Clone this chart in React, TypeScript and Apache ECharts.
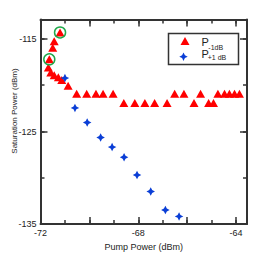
import React, { useEffect, useRef } from "react";
import * as echarts from "echarts";

const redX = [-71.2, -71.44, -71.5, -71.64, -71.68, -71.58, -71.44, -71.27, -71.13, -70.87, -70.52, -70.11, -69.73, -69.44, -69.03, -68.59, -68.14, -67.73, -67.33, -66.82, -66.51, -66.13, -65.72, -65.45, -65.12, -64.92, -64.74, -64.47, -64.27, -64.06, -63.86];
const redY = [-114.3, -115.26, -115.96, -117.2, -118.09, -118.62, -118.91, -119.15, -119.44, -120.05, -120.93, -120.93, -120.93, -120.93, -120.93, -121.92, -121.92, -121.92, -121.92, -121.92, -120.93, -120.93, -121.92, -120.93, -121.92, -121.92, -120.93, -120.93, -120.93, -120.93, -120.93];
const blueX = [-71.0, -70.59, -70.09, -69.54, -69.07, -68.58, -68.05, -67.49, -66.89, -66.33];
const blueY = [-119.23, -122.45, -124.02, -125.65, -126.68, -127.78, -129.7, -131.48, -133.47, -134.17];
const circledIdx = [0, 3];
const xLabels = [-72, -68, -64];
const yLabels = [-115, -125, -135];

const FONT = "Liberation Sans, Arial, sans-serif";
const AX = "#333";
const X_MIN = -72, X_MAX = -63.55, Y_MIN = -135, Y_MAX = -112.9;
const STAR = "path://M5,0 L6.7,3.3 L10,5 L6.7,6.7 L5,10 L3.3,6.7 L0,5 L3.3,3.3 Z";

function xAxisDef(position: string, interval: number, len: number, labels: boolean, line: boolean, name?: string) {
  return {
    type: "value", position, min: X_MIN, max: X_MAX, interval,
    name, nameLocation: "middle", nameGap: 16,
    nameTextStyle: { fontFamily: FONT, fontSize: 9, color: "#222" },
    splitLine: { show: false },
    axisLine: { show: line, onZero: false, lineStyle: { color: AX, width: 2 } },
    axisTick: { show: true, inside: true, length: len, lineStyle: { color: AX, width: 1.5 } },
    axisLabel: {
      show: labels, margin: 4, fontFamily: FONT, fontSize: 9, color: "#222",
      formatter: (v: number) => (xLabels.some((l) => Math.abs(l - v) < 1e-6) ? String(v) : ""),
    },
  };
}
function yAxisDef(position: string, interval: number, len: number, labels: boolean, line: boolean) {
  return {
    type: "value", position, min: Y_MIN, max: Y_MAX, interval,
    splitLine: { show: false },
    axisLine: { show: line, onZero: false, lineStyle: { color: AX, width: 2 } },
    axisTick: { show: true, inside: true, length: len, lineStyle: { color: AX, width: 1.5 } },
    axisLabel: {
      show: labels, margin: 4, fontFamily: FONT, fontSize: 9, color: "#222",
      formatter: (v: number) => (yLabels.some((l) => Math.abs(l - v) < 1e-6) ? String(v) : ""),
    },
  };
}

export default function App() {
  const ref = useRef<HTMLDivElement>(null);
  useEffect(() => {
    if (!ref.current) return;
    const chart = echarts.init(ref.current, undefined, { renderer: "svg" });
    const red = redX.map((x, i) => [x, redY[i]]);
    const blue = blueX.map((x, i) => [x, blueY[i]]);
    const circ = circledIdx.map((i) => [redX[i], redY[i]]);
    chart.setOption({
      animation: false,
      backgroundColor: "#fff",
      grid: { left: 40.5, right: 9, top: 19.5, bottom: 29 },
      xAxis: [
        xAxisDef("bottom", 2, 7, true, true, "Pump Power (dBm)"),
        xAxisDef("bottom", 1, 4, false, false),
        xAxisDef("top", 2, 7, false, true),
        xAxisDef("top", 1, 4, false, false),
      ],
      yAxis: [
        yAxisDef("left", 10, 7, true, true),
        yAxisDef("left", 5, 4, false, false),
        yAxisDef("right", 10, 7, false, true),
        yAxisDef("right", 5, 4, false, false),
      ],
      series: [
        { type: "scatter", name: "P-1dB", data: red, symbol: "triangle", symbolSize: [9, 8], itemStyle: { color: "#ff0000", opacity: 1 }, xAxisIndex: 0, yAxisIndex: 0 },
        { type: "scatter", name: "circles", data: circ, symbol: "circle", symbolSize: 11, itemStyle: { color: "none", borderColor: "#1fa84a", borderWidth: 1.5, opacity: 1 }, xAxisIndex: 0, yAxisIndex: 0 },
        { type: "scatter", name: "P+1dB", data: blue, symbol: STAR, symbolSize: 8.5, itemStyle: { color: "#0a3ed6", opacity: 1 }, xAxisIndex: 0, yAxisIndex: 0 },
      ],
      graphic: [
        { type: "rect", shape: { x: 168.5, y: 33.5, width: 70, height: 31 }, style: { fill: "#fff", stroke: AX, lineWidth: 1.5 } },
        { type: "polygon", shape: { points: [[180.5, 45], [189.5, 45], [185, 37]] }, style: { fill: "#ff0000" } },
        { type: "polygon", shape: { points: [[183.5, 52.5], [184.9, 55.3], [187.7, 56.7], [184.9, 58.1], [183.5, 60.9], [182.1, 58.1], [179.3, 56.7], [182.1, 55.3]] }, style: { fill: "#0a3ed6" } },
        { type: "text", x: 201.5, y: 42, style: { text: "P", fontFamily: FONT, fontSize: 11, fill: "#222", verticalAlign: "middle" } },
        { type: "text", x: 208.3, y: 47, style: { text: "-1dB", fontFamily: FONT, fontSize: 7, fill: "#222", verticalAlign: "middle" } },
        { type: "text", x: 201.5, y: 54.3, style: { text: "P", fontFamily: FONT, fontSize: 11, fill: "#222", verticalAlign: "middle" } },
        { type: "text", x: 207.7, y: 57.8, style: { text: "+1 dB", fontFamily: FONT, fontSize: 7, fill: "#222", verticalAlign: "middle" } },
        { type: "text", x: 14, y: 111, rotation: Math.PI / 2, style: { text: "Saturation Power (dBm)", fontFamily: FONT, fontSize: 8, fill: "#222", align: "center", verticalAlign: "middle" } },
      ],
    });
    return () => chart.dispose();
  }, []);
  return <div ref={ref} style={{ position: "fixed", left: 0, top: 0, width: 256, height: 256 }} />;
}
